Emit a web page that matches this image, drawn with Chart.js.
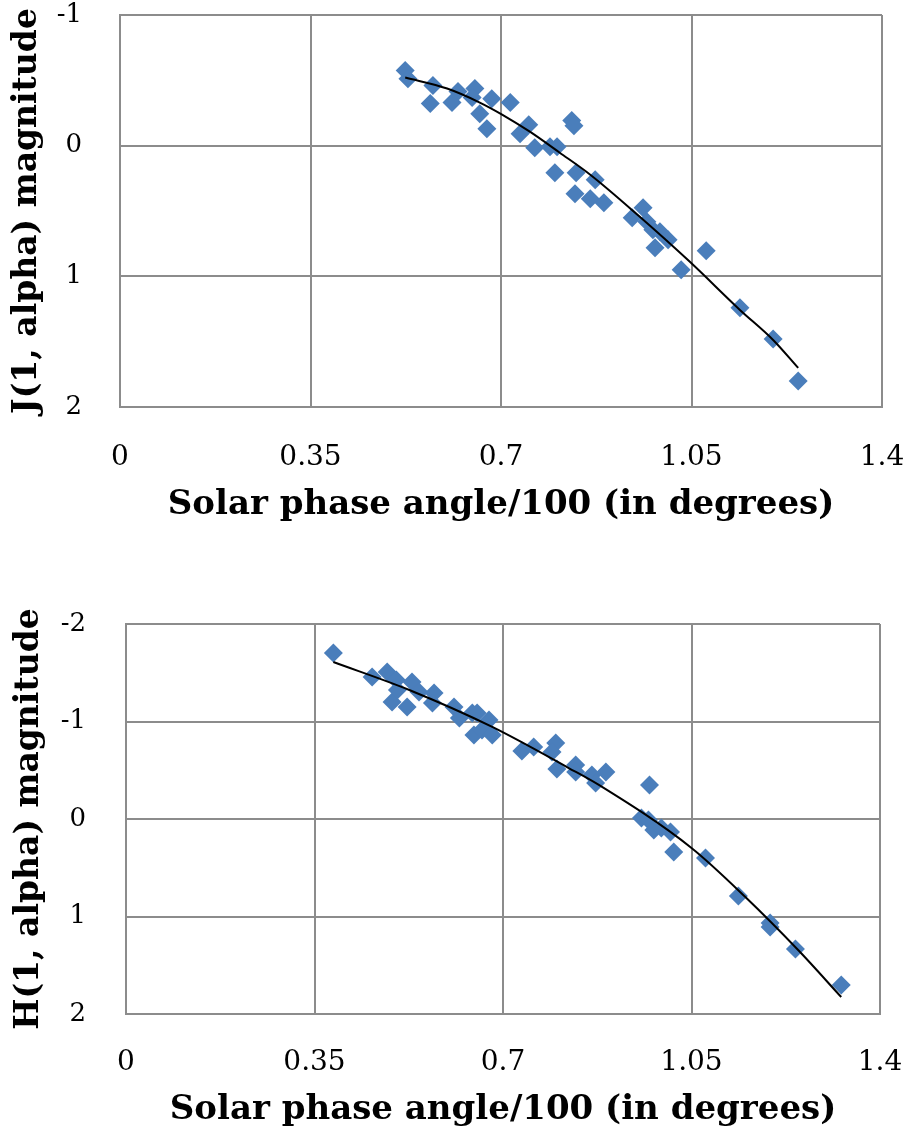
<!DOCTYPE html>
<html>
<head>
<meta charset="utf-8">
<script src="https://cdn.jsdelivr.net/npm/chart.js@4/dist/chart.umd.min.js"></script>
<style>
  html, body { margin: 0; padding: 0; background: #fff; }
  body { width: 909px; height: 1132px; position: relative; overflow: hidden; }
  .box { position: absolute; left: 0; width: 909px; }
  #boxJ { top: 0; height: 540px; }
  #boxH { top: 590px; height: 542px; }
</style>
</head>
<body>
<div class="box" id="boxJ"><canvas id="chartJ" width="909" height="540"></canvas></div>
<div class="box" id="boxH"><canvas id="chartH" width="909" height="542"></canvas></div>
<script>
// Tick labels shared by both panels.
const xTicks = ['0', '0.35', '0.7', '1.05', '1.4'];
const xTitle = 'Solar phase angle/100 (in degrees)';

// J band: observed points.
const jPhase = [0.524, 0.529, 0.575, 0.570, 0.610, 0.621, 0.652, 0.647, 0.661, 0.674, 0.683, 0.717,
  0.751, 0.735, 0.762, 0.790, 0.803, 0.799, 0.830, 0.834, 0.838, 0.873, 0.836, 0.864, 0.889,
  0.941, 0.961, 0.968, 0.979, 0.992, 1.007, 0.983, 1.077, 1.031, 1.139, 1.200, 1.246];
const jMag = [-0.575, -0.513, -0.460, -0.322, -0.330, -0.414, -0.437, -0.368, -0.245, -0.130, -0.360, -0.330,
  -0.161, -0.092, 0.015, 0.008, 0.008, 0.207, -0.192, -0.153, 0.207, 0.261, 0.368, 0.406, 0.437,
  0.552, 0.475, 0.582, 0.644, 0.659, 0.720, 0.782, 0.805, 0.950, 1.241, 1.479, 1.801];
// J band: trend line.
const jFitPhase = [0.524, 0.601, 0.661, 0.702, 0.753, 0.808, 0.864, 0.955, 1.047, 1.139, 1.200, 1.246];
const jFitMag = [-0.521, -0.437, -0.330, -0.238, -0.107, 0.054, 0.222, 0.544, 0.889, 1.257, 1.487, 1.701];

// H band: observed points.
const hPhase = [0.385, 0.457, 0.485, 0.502, 0.494, 0.504, 0.522, 0.531, 0.544, 0.572, 0.569, 0.609,
  0.619, 0.643, 0.652, 0.674, 0.646, 0.661, 0.680, 0.735, 0.757, 0.798, 0.791, 0.800, 0.835,
  0.835, 0.865, 0.872, 0.891, 0.972, 0.957, 0.970, 0.980, 0.994, 1.011, 1.017, 1.076, 1.137,
  1.196, 1.196, 1.243, 1.328];
const hMag = [-1.703, -1.456, -1.508, -1.426, -1.200, -1.323, -1.149, -1.405, -1.303, -1.292, -1.190, -1.149,
  -1.036, -1.087, -1.087, -1.015, -0.862, -0.913, -0.862, -0.697, -0.738, -0.779, -0.687, -0.513, -0.554,
  -0.482, -0.451, -0.369, -0.482, -0.349, -0.010, 0.010, 0.113, 0.092, 0.133, 0.338, 0.400, 0.790,
  1.067, 1.108, 1.333, 1.703];
// H band: trend line.
const hFitPhase = [0.385, 0.526, 0.680, 0.822, 0.878, 1.050, 1.150, 1.248, 1.328];
const hFitMag = [-1.610, -1.323, -0.944, -0.523, -0.349, 0.297, 0.800, 1.344, 1.826];

const SERIF = '"DejaVu Serif", "Liberation Serif", serif';
const GRID = '#8c8c8c';
const BLUE = '#4a7ebb';

const pts = (xs, ys) => xs.map((x, i) => ({ x, y: ys[i] }));

function makeChart(id, o) {
  return new Chart(document.getElementById(id), {
    type: 'scatter',
    data: {
      datasets: [
        { type: 'line', data: pts(o.fitX, o.fitY), borderColor: '#000', borderWidth: 2, pointRadius: 0,
          fill: false, tension: 0.4, cubicInterpolationMode: 'monotone' },
        { data: pts(o.x, o.y), pointStyle: 'rectRot', pointRadius: 9.5, backgroundColor: BLUE,
          borderColor: BLUE, borderWidth: 0 },
      ],
    },
    options: {
      responsive: false,
      animation: false,
      devicePixelRatio: 1,
      layout: { padding: { top: o.padTop, right: o.padRight, left: 0, bottom: 0 } },
      plugins: { legend: { display: false }, tooltip: { enabled: false } },
      scales: {
        x: {
          type: 'linear', min: 0, max: 1.4,
          // fixed axis band, and no extra room for the end labels
          afterFit: s => { s.height = o.xAxisH; s.paddingLeft = 0; s.paddingRight = 0; },
          grid: { color: GRID, lineWidth: 2, drawTicks: false },
          border: { color: GRID, width: 2 },
          ticks: { stepSize: 0.35, padding: o.xTickPad, color: '#000', maxRotation: 0,
            font: { family: SERIF, size: 28 }, callback: (v, i) => xTicks[i] },
          title: { display: true, text: xTitle, color: '#000', padding: { top: 0, bottom: o.xTitlePad },
            font: { family: SERIF, size: 34, weight: 'bold' } },
        },
        y: {
          type: 'linear', reverse: true, min: o.yMin, max: o.yMax,
          afterFit: s => { s.width = o.yAxisW; s.paddingTop = 0; s.paddingBottom = 0; },
          grid: { color: GRID, lineWidth: 2, drawTicks: false },
          border: { color: GRID, width: 2 },
          ticks: { stepSize: 1, padding: o.yTickPad, color: '#000', font: { family: SERIF, size: 26 } },
          title: { display: true, text: o.yTitle, color: '#000', padding: { top: o.yTitlePad, bottom: o.yTitlePad },
            font: { family: SERIF, size: 33, weight: 'bold' } },
        },
      },
    },
  });
}

makeChart('chartJ', {
  x: jPhase, y: jMag, fitX: jFitPhase, fitY: jFitMag,
  yMin: -1, yMax: 2, yTitle: 'J(1, alpha) magnitude',
  padTop: 15, padRight: 27, xAxisH: 133, yAxisW: 120,
  xTickPad: 34, xTitlePad: 14, yTickPad: 38, yTitlePad: 8,
});

makeChart('chartH', {
  x: hPhase, y: hMag, fitX: hFitPhase, fitY: hFitMag,
  yMin: -2, yMax: 2, yTitle: 'H(1, alpha) magnitude',
  padTop: 34, padRight: 29, xAxisH: 118, yAxisW: 126,
  xTickPad: 32, xTitlePad: 1, yTickPad: 40, yTitlePad: 10,
});
</script>
</body>
</html>
